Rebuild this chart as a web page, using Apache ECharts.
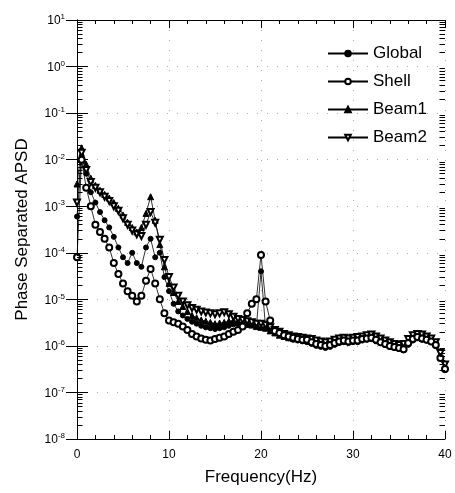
<!DOCTYPE html>
<html>
<head>
<meta charset="utf-8">
<title>Phase Separated APSD</title>
<script src="https://cdn.jsdelivr.net/npm/echarts@6/dist/echarts.min.js"></script>
<style>
  html, body { margin: 0; padding: 0; background: #fff; }
  #chart { width: 455px; height: 493px; }
</style>
</head>
<body>
<div id="chart"></div>
<script>
// frequency (Hz), 0.5 Hz steps
var freq = [0, 0.5, 1, 1.5, 2, 2.5, 3, 3.5, 4, 4.5, 5, 5.5, 6, 6.5, 7, 7.5, 8, 8.5, 9, 9.5,
  10, 10.5, 11, 11.5, 12, 12.5, 13, 13.5, 14, 14.5, 15, 15.5, 16, 16.5, 17, 17.5, 18, 18.5, 19, 19.5,
  20, 20.5, 21, 21.5, 22, 22.5, 23, 23.5, 24, 24.5, 25, 25.5, 26, 26.5, 27, 27.5, 28, 28.5, 29, 29.5,
  30, 30.5, 31, 31.5, 32, 32.5, 33, 33.5, 34, 34.5, 35, 35.5, 36, 36.5, 37, 37.5, 38, 38.5, 39, 39.5, 40];

var globalPsd = [6e-4, 1.2e-2, 5e-3, 2e-3, 1.2e-3, 7.5e-4, 5e-4, 3.5e-4, 2.2e-4, 1.3e-4,
  8e-5, 6e-5, 1e-4, 6e-5, 5e-5, 1.3e-4, 2e-4, 8e-5, 1e-4, 3e-5,
  1.5e-5, 8e-6, 5.5e-6, 4.5e-6, 3.8e-6, 3.3e-6, 3e-6, 2.7e-6, 2.5e-6, 2.4e-6,
  2.3e-6, 2.4e-6, 2.5e-6, 2.7e-6, 2.9e-6, 3e-6, 3e-6, 2.9e-6, 2.8e-6, 2.6e-6,
  4e-5, 2.4e-6, 2.2e-6, 2e-6, 1.8e-6, 1.6e-6, 1.45e-6, 1.35e-6, 1.3e-6, 1.25e-6,
  1.2e-6, 1.1e-6, 1.0e-6, 9.5e-7, 9e-7, 9.5e-7, 1.05e-6, 1.15e-6, 1.2e-6, 1.15e-6,
  1.2e-6, 1.2e-6, 1.3e-6, 1.35e-6, 1.4e-6, 1.25e-6, 1.15e-6, 1.05e-6, 9.5e-7, 9e-7,
  8.5e-7, 8e-7, 1.05e-6, 1.3e-6, 1.45e-6, 1.35e-6, 1.3e-6, 1.2e-6, 1e-6, 5.5e-7, 3e-7];

var shellPsd = [8e-5, 1e-2, 2.5e-3, 1e-3, 4e-4, 2.8e-4, 2e-4, 1.3e-4, 6e-5, 3.5e-5,
  2.2e-5, 1.5e-5, 1.2e-5, 9e-6, 1.2e-5, 2.5e-5, 4.5e-5, 2.2e-5, 1e-5, 5e-6,
  3.5e-6, 3.2e-6, 3e-6, 2.6e-6, 2.2e-6, 1.8e-6, 1.6e-6, 1.45e-6, 1.35e-6, 1.3e-6,
  1.4e-6, 1.5e-6, 1.6e-6, 1.8e-6, 2e-6, 2.2e-6, 2.6e-6, 5e-6, 8e-6, 1e-5,
  9e-5, 9e-6, 3.5e-6, 2.1e-6, 1.9e-6, 1.7e-6, 1.6e-6, 1.5e-6, 1.4e-6, 1.35e-6,
  1.35e-6, 1.2e-6, 1.1e-6, 1.05e-6, 1e-6, 1.05e-6, 1.15e-6, 1.25e-6, 1.3e-6, 1.25e-6,
  1.3e-6, 1.3e-6, 1.4e-6, 1.45e-6, 1.5e-6, 1.35e-6, 1.2e-6, 1.1e-6, 1.0e-6, 9.5e-7,
  9e-7, 8.5e-7, 1.15e-6, 1.4e-6, 1.55e-6, 1.45e-6, 1.35e-6, 1.25e-6, 1.05e-6, 5.5e-7, 3.2e-7];

var beam1Psd = [3e-3, 1.8e-2, 8e-3, 4e-3, 2.8e-3, 2.2e-3, 1.8e-3, 1.5e-3, 1.2e-3, 9e-4,
  6.5e-4, 4.5e-4, 3.5e-4, 2.8e-4, 3.5e-4, 7e-4, 1.6e-3, 5e-4, 1.5e-4, 5e-5,
  2.2e-5, 1.4e-5, 9e-6, 7e-6, 5.5e-6, 4.5e-6, 4e-6, 3.6e-6, 3.4e-6, 3.2e-6,
  3e-6, 3.1e-6, 3.2e-6, 3.4e-6, 3.5e-6, 3.3e-6, 3.1e-6, 2.9e-6, 2.8e-6, 2.6e-6,
  2.5e-6, 2.4e-6, 2.1e-6, 1.9e-6, 1.7e-6, 1.6e-6, 1.5e-6, 1.45e-6, 1.5e-6, 1.4e-6,
  1.3e-6, 1.25e-6, 1.15e-6, 1.1e-6, 1.05e-6, 1.1e-6, 1.2e-6, 1.3e-6, 1.35e-6, 1.3e-6,
  1.4e-6, 1.35e-6, 1.45e-6, 1.5e-6, 1.55e-6, 1.4e-6, 1.3e-6, 1.2e-6, 1.1e-6, 1.0e-6,
  9.5e-7, 9e-7, 1.2e-6, 1.5e-6, 1.6e-6, 1.5e-6, 1.45e-6, 1.3e-6, 1.1e-6, 6e-7, 3.5e-7];

var beam2Psd = [1.2e-3, 1.4e-2, 6e-3, 3.3e-3, 2.5e-3, 2e-3, 1.6e-3, 1.3e-3, 1e-3, 8e-4,
  5.5e-4, 4e-4, 3e-4, 2.5e-4, 2.3e-4, 4e-4, 7.5e-4, 4.4e-4, 1.9e-4, 7e-5,
  3e-5, 1.8e-5, 1.2e-5, 9e-6, 7.5e-6, 6.5e-6, 6e-6, 5.5e-6, 5.2e-6, 5e-6,
  4.8e-6, 5e-6, 5.3e-6, 4.8e-6, 4.2e-6, 3.8e-6, 3.6e-6, 3.4e-6, 3.2e-6, 3e-6,
  3e-6, 2.8e-6, 2.5e-6, 2.2e-6, 2e-6, 1.8e-6, 1.7e-6, 1.6e-6, 1.55e-6, 1.5e-6,
  1.45e-6, 1.4e-6, 1.3e-6, 1.25e-6, 1.2e-6, 1.25e-6, 1.35e-6, 1.45e-6, 1.5e-6, 1.45e-6,
  1.5e-6, 1.55e-6, 1.6e-6, 1.7e-6, 1.75e-6, 1.6e-6, 1.45e-6, 1.3e-6, 1.2e-6, 1.1e-6,
  1.05e-6, 1.1e-6, 1.4e-6, 1.7e-6, 1.8e-6, 1.75e-6, 1.6e-6, 1.45e-6, 1.2e-6, 7e-7, 4e-7];

var seriesNames = ['Global', 'Shell', 'Beam1', 'Beam2'];

// log-axis minor tick positions within each decade
var minorMultipliers = [2, 3, 4, 5, 6, 7, 8, 9];
var decades = [-8, -7, -6, -5, -4, -3, -2, -1, 0];

var FONT = 'Liberation Sans, Arial, sans-serif';

function pairs(arr) {
  return freq.map(function (f, i) { return [f, arr[i]]; });
}

// short tick segments at the left and right frame, in data units (0.6 Hz ~ 6 px)
var minorTickLines = [];
decades.forEach(function (e) {
  minorMultipliers.forEach(function (k) {
    var v = Number((k * Math.pow(10, e)).toPrecision(3));
    minorTickLines.push([{ coord: [0, v] }, { coord: [0.6, v] }]);
    minorTickLines.push([{ coord: [39.4, v] }, { coord: [40, v] }]);
  });
});

function lineSeries(name, arr, symbol, size, extra) {
  var s = {
    name: name,
    type: 'line',
    data: pairs(arr),
    symbol: symbol,
    symbolSize: size,
    showAllSymbol: true,
    lineStyle: { color: '#000', width: 0.8 },
    itemStyle: { color: '#000', borderColor: '#000', borderWidth: 1 },
    emphasis: { disabled: true },
    z: 3
  };
  for (var key in extra) s[key] = extra[key];
  return s;
}

var chart = echarts.init(document.getElementById('chart'));

var option = {
  animation: false,
  backgroundColor: '#fff',
  grid: { left: 77, right: 10, top: 20, bottom: 54 },
  legend: {
    data: seriesNames,
    orient: 'vertical',
    left: 322,
    top: 40,
    itemWidth: 40,
    itemHeight: 7,
    itemGap: 11,
    textStyle: { fontSize: 17, fontFamily: FONT, color: '#000' }
  },
  xAxis: [
    {
      type: 'value', min: 0, max: 40, interval: 10,
      name: 'Frequency(Hz)', nameLocation: 'middle', nameGap: 30,
      nameTextStyle: { fontSize: 17, fontFamily: FONT, color: '#000' },
      axisLine: { show: true, onZero: false, lineStyle: { color: '#000', width: 1 } },
      axisTick: { show: true, inside: true, length: 8, lineStyle: { color: '#000' } },
      minorTick: { show: true, splitNumber: 5, length: 4, lineStyle: { color: '#000' } },
      axisLabel: { margin: 10, fontSize: 12, fontFamily: FONT, color: '#000' },
      splitLine: { show: true, lineStyle: { color: '#aaa', width: 1, type: [1, 9] } }
    },
    {
      type: 'value', min: 0, max: 40, interval: 10, position: 'top',
      axisLine: { show: true, lineStyle: { color: '#000', width: 1 } },
      axisTick: { show: true, inside: true, length: 8, lineStyle: { color: '#000' } },
      minorTick: { show: true, splitNumber: 5, length: 4, lineStyle: { color: '#000' } },
      axisLabel: { show: false },
      splitLine: { show: false }
    }
  ],
  yAxis: [
    {
      type: 'log', logBase: 10, min: 1e-8, max: 10, interval: 1,
      name: 'Phase Separated APSD', nameLocation: 'middle', nameGap: 46,
      nameTextStyle: { fontSize: 17, fontFamily: FONT, color: '#000' },
      axisLine: { show: true, onZero: false, lineStyle: { color: '#000', width: 1 } },
      axisTick: { show: true, inside: true, length: 11, lineStyle: { color: '#000' } },
      axisLabel: {
        margin: 12,
        formatter: function (v) {
          return '{b|10}{s|' + Math.round(Math.log10(v)) + '}';
        },
        rich: {
          b: { fontSize: 12, fontFamily: FONT, color: '#000', verticalAlign: 'bottom' },
          s: { fontSize: 8, fontFamily: FONT, color: '#000', verticalAlign: 'bottom', padding: [0, 0, 6, 0] }
        }
      },
      splitLine: { show: true, lineStyle: { color: '#aaa', width: 1, type: [1, 9] } }
    },
    {
      type: 'log', logBase: 10, min: 1e-8, max: 10, interval: 1, position: 'right',
      axisLine: { show: true, lineStyle: { color: '#000', width: 1 } },
      axisTick: { show: true, inside: true, length: 11, lineStyle: { color: '#000' } },
      axisLabel: { show: false },
      splitLine: { show: false }
    }
  ],
  series: [
    lineSeries('Global', globalPsd, 'circle', 5, {
      markLine: {
        silent: true,
        symbol: 'none',
        animation: false,
        label: { show: false },
        emphasis: { disabled: true },
        lineStyle: { color: '#000', width: 1, type: 'solid' },
        data: minorTickLines
      }
    }),
    lineSeries('Beam1', beam1Psd, 'triangle', 6, {}),
    lineSeries('Beam2', beam2Psd, 'emptyTriangle', 6, { symbolRotate: 180 }),
    lineSeries('Shell', shellPsd, 'emptyCircle', 6, { z: 4 })
  ]
};

chart.setOption(option);
</script>
</body>
</html>
